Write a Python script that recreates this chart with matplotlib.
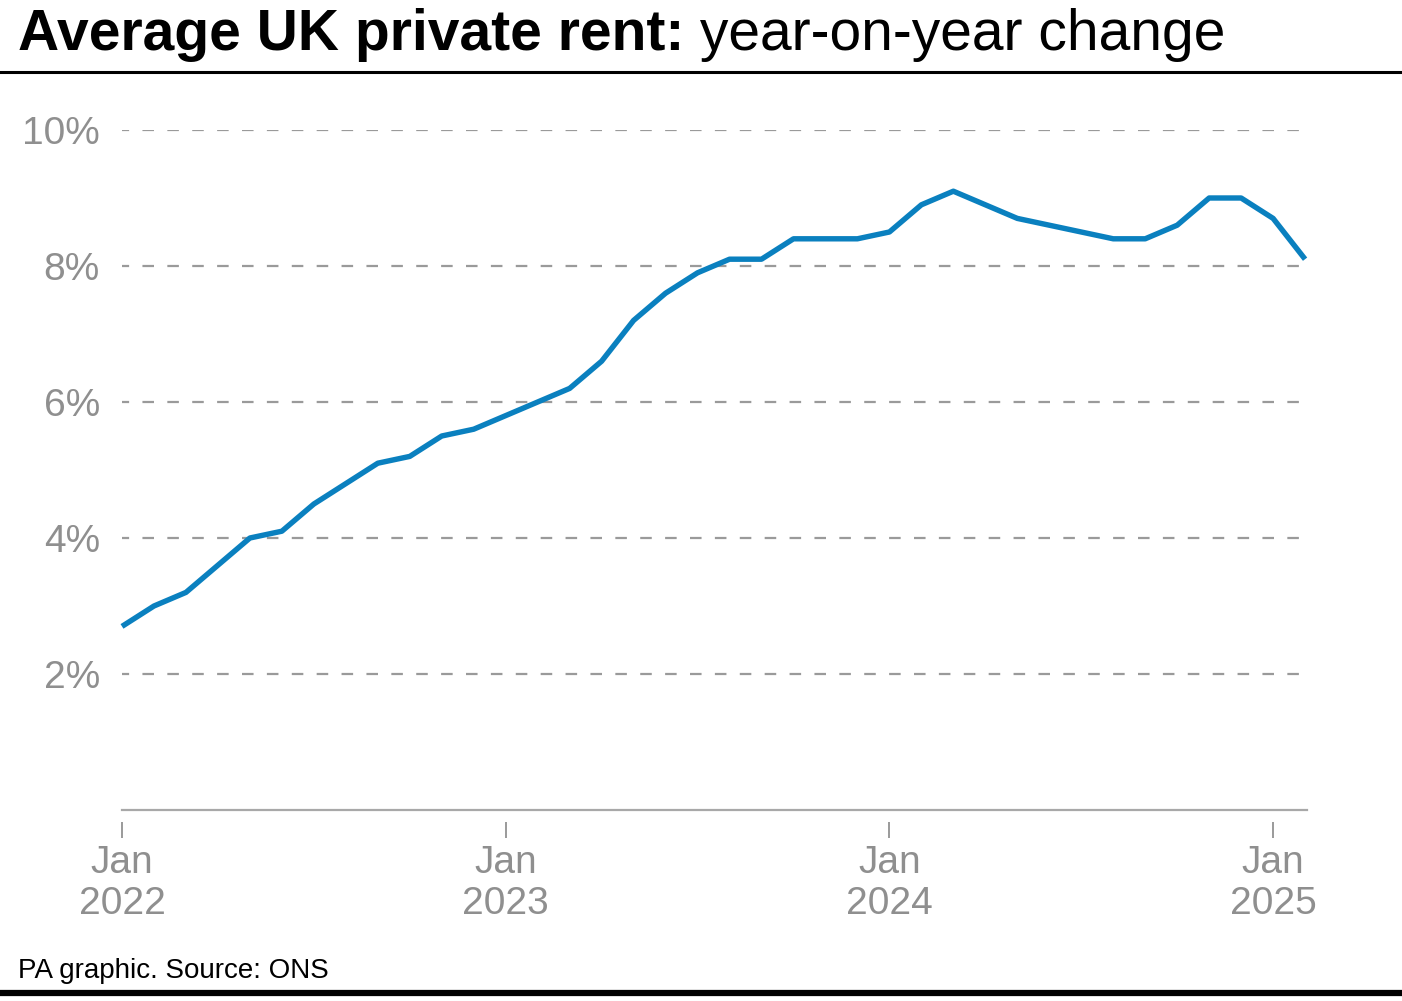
import matplotlib
matplotlib.use("Agg")
import matplotlib.pyplot as plt
from matplotlib.lines import Line2D

# ---- data ----
months = [
    "2022-01", "2022-02", "2022-03", "2022-04", "2022-05", "2022-06",
    "2022-07", "2022-08", "2022-09", "2022-10", "2022-11", "2022-12",
    "2023-01", "2023-02", "2023-03", "2023-04", "2023-05", "2023-06",
    "2023-07", "2023-08", "2023-09", "2023-10", "2023-11", "2023-12",
    "2024-01", "2024-02", "2024-03", "2024-04", "2024-05", "2024-06",
    "2024-07", "2024-08", "2024-09", "2024-10", "2024-11", "2024-12",
    "2025-01", "2025-02",
]
rent_change = [
    2.7, 3.0, 3.2, 3.6, 4.0, 4.1, 4.5, 4.8, 5.1, 5.2, 5.5, 5.6,
    5.8, 6.0, 6.2, 6.6, 7.2, 7.6, 7.9, 8.1, 8.1, 8.4, 8.4, 8.4,
    8.5, 8.9, 9.1, 8.9, 8.7, 8.6, 8.5, 8.4, 8.4, 8.6, 9.0, 9.0,
    8.7, 8.1,
]
x_tick_months = ["2022-01", "2023-01", "2024-01", "2025-01"]
x_tick_labels = ["Jan\n2022", "Jan\n2023", "Jan\n2024", "Jan\n2025"]
y_ticks = [2, 4, 6, 8, 10]
y_tick_labels = ["2%", "4%", "6%", "8%", "10%"]

title_bold = "Average UK private rent:"
title_regular = " year-on-year change"
source_text = "PA graphic. Source: ONS"

plt.rcParams["font.family"] = ["Liberation Sans", "DejaVu Sans"]

W, H = 1402, 1001
fig = plt.figure(figsize=(W / 100, H / 100), dpi=100)

x_idx = list(range(len(months)))
tick_pos = [months.index(m) for m in x_tick_months]

ax = fig.add_axes([122 / W, 1 - 810 / H, (1307 - 122) / W, (810 - 130) / H])
ax.set_xlim(0, 37.06)
ax.set_ylim(0, 10)

grey = "#8f8f8f"
ax.set_yticks(y_ticks)
ax.set_yticklabels(y_tick_labels)
ax.yaxis.grid(True, color="#9a9a9a", linewidth=1.6, linestyle=(2, (5.2, 6.0)))
ax.set_axisbelow(True)
ax.tick_params(axis="y", length=0, pad=16, labelsize=28, labelcolor=grey)

ax.set_xticks(tick_pos)
ax.set_xticklabels(x_tick_labels)
ax.tick_params(axis="x", length=11.5, width=1.4, color="#9a9a9a", pad=5,
               labelsize=28, labelcolor=grey)
for lbl in ax.get_xticklabels():
    lbl.set_linespacing(1.25)

for s in ["top", "right", "left"]:
    ax.spines[s].set_visible(False)
ax.spines["bottom"].set_position(("outward", 8.6))
ax.spines["bottom"].set_visible(False)
ax.axhline(0, color="#a8a8a8", linewidth=1.6, clip_on=False)

ax.plot(x_idx, rent_change, color="#0a80bf", linewidth=3.9,
        solid_joinstyle="round", solid_capstyle="butt", clip_on=False, zorder=3)

# title
t1 = fig.text(18 / W, 1 - 50 / H, title_bold, fontsize=41, fontweight="bold",
              color="black", va="baseline", ha="left")
fig.canvas.draw()
bb = t1.get_window_extent(renderer=fig.canvas.get_renderer())
fig.text(bb.x1 / W, 1 - 50 / H, title_regular, fontsize=41, color="black",
         va="baseline", ha="left")

# rules
fig.add_artist(Line2D([0, 1], [1 - 72 / H, 1 - 72 / H], transform=fig.transFigure,
                      color="black", linewidth=2.2))
fig.add_artist(Line2D([0, 1], [1 - 993 / H, 1 - 993 / H], transform=fig.transFigure,
                      color="black", linewidth=4.5))

fig.text(18 / W, 1 - 978 / H, source_text, fontsize=20, color="black",
         va="baseline", ha="left")

fig.savefig("out.png", dpi=100)
